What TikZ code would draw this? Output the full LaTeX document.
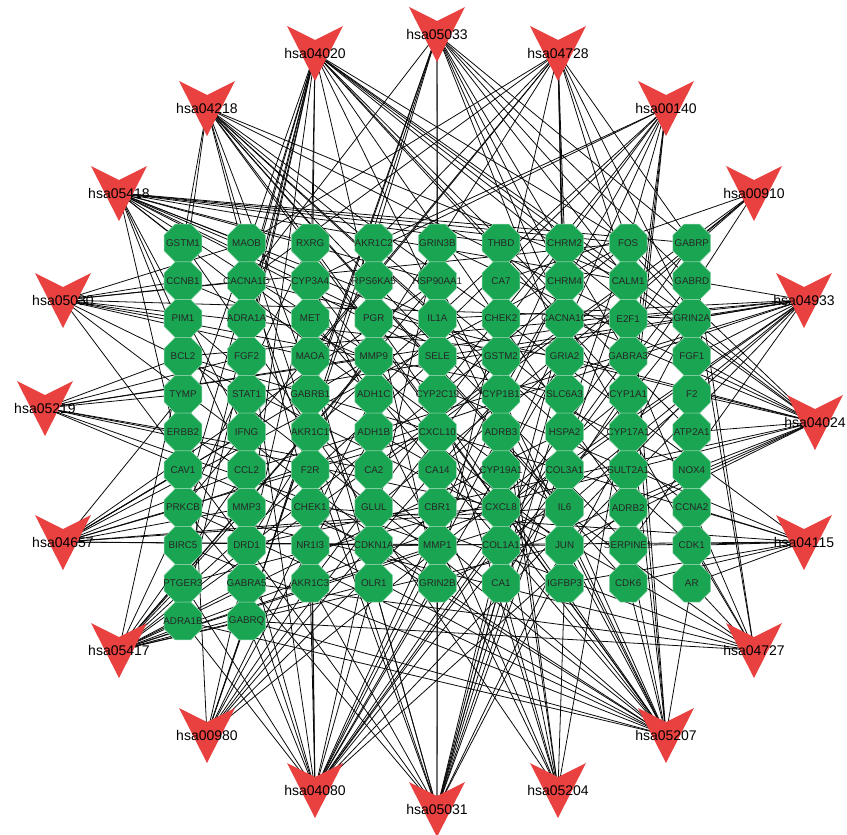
\documentclass[tikz,border=0pt]{standalone}
\usepackage{fontspec}
\setmainfont{Liberation Sans}
\usetikzlibrary{shapes.geometric,backgrounds}
\definecolor{geneGreen}{HTML}{19A552}
\definecolor{pathRed}{HTML}{E8413F}
\definecolor{linkGrey}{HTML}{0A0A0A}

\begin{document}
\begin{tikzpicture}[x=1pt, y=-1pt,
  gene/.style={regular polygon, regular polygon sides=8, minimum size=41pt, inner sep=0pt, fill=geneGreen, draw=geneGreen!45!white, line width=0.5pt, font=\fontsize{9.8}{10}\selectfont, text=black!85},
  pway/.style={inner sep=0pt, font=\fontsize{14}{14}\selectfont, text=black},
  link/.style={linkGrey, line width=0.8pt}
]
\useasboundingbox (0,0) rectangle (847,835);

% Target genes, column by column
\foreach \col [count=\i from 0] in {
  {GSTM1,CCNB1,PIM1,BCL2,TYMP,ERBB2,CAV1,PRKCB,BIRC5,PTGER3,ADRA1B},
  {MAOB,CACNA1D,ADRA1A,FGF2,STAT1,IFNG,CCL2,MMP3,DRD1,GABRA5,GABRQ},
  {RXRG,CYP3A4,MET,MAOA,GABRB1,AKR1C1,F2R,CHEK1,NR1I3,AKR1C3},
  {AKR1C2,RPS6KA5,PGR,MMP9,ADH1C,ADH1B,CA2,GLUL,CDKN1A,OLR1},
  {GRIN3B,HSP90AA1,IL1A,SELE,CYP2C19,CXCL10,CA14,CBR1,MMP1,GRIN2B},
  {THBD,CA7,CHEK2,GSTM2,CYP1B1,ADRB3,CYP19A1,CXCL8,COL1A1,CA1},
  {CHRM2,CHRM4,CACNA1C,GRIA2,SLC6A3,HSPA2,COL3A1,IL6,JUN,IGFBP3},
  {FOS,CALM1,E2F1,GABRA3,CYP1A1,CYP17A1,SULT2A1,ADRB2,SERPINE1,CDK6},
  {GABRP,GABRD,GRIN2A,FGF1,F2,ATP2A1,NOX4,CCNA2,CDK1,AR}}
  \foreach \g [count=\j from 0] in \col
    \node[gene] (\g) at (183+63.6*\i, 243+37.8*\j) {\makebox[0pt]{\g}};

% KEGG pathways (V markers)
\foreach \p/\x/\y in {hsa05033/437/34, hsa04020/315/53, hsa04728/558/53,
  hsa04218/207/108, hsa00140/666/108, hsa05418/119/193, hsa00910/754/193,
  hsa05030/63/300, hsa04933/804/300, hsa05219/45/408, hsa04024/815/422,
  hsa04657/63/542, hsa04115/804/542, hsa05417/119/650, hsa04727/754/650,
  hsa00980/207/735, hsa05207/666/735, hsa04080/315/790, hsa05204/558/790,
  hsa05031/437/809}
{
  \fill[pathRed] (\x-28,\y-27) -- (\x,\y-13) -- (\x+28,\y-27) -- (\x,\y+28) -- cycle;
  \node[pway] (\p) at (\x,\y) {\p};
}

% pathway - gene links
\begin{scope}[on background layer]
\foreach \g in {GRIN3B,GRIN2B,GRIN2A,GABRA5,GABRQ,GABRB1,GABRA3,GABRD,GABRP,CACNA1C,CACNA1D,GRIA2,CALM1,AKR1C2,CHRM4}
  \draw[link] (hsa05033.center) -- (\g);
\foreach \g in {CACNA1C,CACNA1D,CHRM2,ADRA1A,ADRA1B,ADRB2,ADRB3,CALM1,DRD1,F2R,GRIN2A,GRIN2B,ATP2A1,PTGER3,FGF1,FGF2,MET,ERBB2,PRKCB,CYP1A1,FOS}
  \draw[link] (hsa04020.center) -- (\g);
\foreach \g in {CACNA1C,CACNA1D,CALM1,DRD1,GRIA2,GRIN2A,GRIN2B,MAOA,MAOB,SLC6A3,PRKCB,FOS,AKR1C2,CHRM2,GABRP}
  \draw[link] (hsa04728.center) -- (\g);
\foreach \g in {CCNB1,CCNA2,CDK1,CDK6,CDKN1A,CHEK1,CHEK2,E2F1,IL6,CXCL8,SERPINE1,CALM1,IL1A,MAOB,RXRG,GSTM1}
  \draw[link] (hsa04218.center) -- (\g);
\foreach \g in {CYP1A1,CYP1B1,CYP3A4,CYP17A1,CYP19A1,AKR1C1,AKR1C2,AKR1C3,SULT2A1,CYP2C19,FOS,ADH1C}
  \draw[link] (hsa00140.center) -- (\g);
\foreach \g in {GSTM1,GSTM2,MMP9,IL1A,SELE,THBD,JUN,FOS,CALM1,HSP90AA1,NOX4,CCL2,IFNG,BCL2,CAV1,MAOB,RXRG,CHRM2,GABRP}
  \draw[link] (hsa05418.center) -- (\g);
\foreach \g in {CA1,CA2,CA7,CA14,GLUL,GABRP}
  \draw[link] (hsa00910.center) -- (\g);
\foreach \g in {DRD1,GRIA2,GRIN2A,GRIN2B,MAOA,MAOB,SLC6A3,JUN,FOS,CCNB1,PIM1,CACNA1D}
  \draw[link] (hsa05030.center) -- (\g);
\foreach \g in {CCL2,COL1A1,COL3A1,CXCL8,IL6,IL1A,JUN,SELE,SERPINE1,STAT1,PRKCB,BCL2,GRIN2A,GABRD,FGF1,E2F1}
  \draw[link] (hsa04933.center) -- (\g);
\foreach \g in {CDKN1A,E2F1,ERBB2,MMP1,MMP9,CXCL8,TYMP,BCL2,FGF2,CA2}
  \draw[link] (hsa05219.center) -- (\g);
\foreach \g in {ADRB2,CALM1,CACNA1C,CACNA1D,CHRM2,DRD1,FOS,JUN,GRIA2,GRIN2A,GRIN2B,ATP2A1,PTGER3,GRIN3B,F2,FGF1,NOX4}
  \draw[link] (hsa04024.center) -- (\g);
\foreach \g in {CCL2,CXCL10,CXCL8,FOS,HSP90AA1,IFNG,IL6,JUN,MMP1,MMP3,MMP9,PRKCB,CAV1,TYMP}
  \draw[link] (hsa04657.center) -- (\g);
\foreach \g in {CCNB1,CDK1,CDK6,CDKN1A,CHEK1,CHEK2,IGFBP3,SERPINE1,BCL2,CCNA2,AR}
  \draw[link] (hsa04115.center) -- (\g);
\foreach \g in {BCL2,CALM1,CCL2,CXCL8,HSP90AA1,IL6,JUN,MMP1,MMP3,MMP9,OLR1,SELE,RXRG,HSPA2,FOS,PTGER3,ADRA1B,GABRQ,GABRA5}
  \draw[link] (hsa05417.center) -- (\g);
\foreach \g in {GABRA3,GABRA5,GABRB1,GABRD,GABRP,GABRQ,GLUL,CACNA1C,CACNA1D,PRKCB,AR,CDK1}
  \draw[link] (hsa04727.center) -- (\g);
\foreach \g in {ADH1B,ADH1C,AKR1C1,AKR1C2,AKR1C3,CBR1,CYP1A1,CYP1B1,CYP3A4,GSTM1,GSTM2,GABRQ}
  \draw[link] (hsa00980.center) -- (\g);
\foreach \g in {CYP1A1,CYP1B1,CYP3A4,JUN,FOS,BCL2,HSP90AA1,IL6,CXCL8,AR,PGR,ERBB2,E2F1,RXRG,NR1I3,PIM1,PRKCB,BIRC5,CDKN1A,MET,ADRA1B,GABRQ,CDK6,SERPINE1}
  \draw[link] (hsa05207.center) -- (\g);
\foreach \g in {ADRA1A,ADRA1B,ADRB2,ADRB3,CHRM2,CHRM4,DRD1,F2,F2R,GABRA3,GABRA5,GABRB1,GABRD,GABRP,GABRQ,GRIA2,GRIN2A,GRIN2B,GRIN3B,PTGER3,AKR1C3,OLR1}
  \draw[link] (hsa04080.center) -- (\g);
\foreach \g in {CYP1A1,CYP1B1,CYP3A4,GSTM1,GSTM2,CYP2C19,CBR1,CA1,IGFBP3,CXCL8}
  \draw[link] (hsa05204.center) -- (\g);
\foreach \g in {CACNA1C,CACNA1D,CALM1,DRD1,FOS,GRIA2,GRIN2A,GRIN2B,GRIN3B,JUN,MAOA,MAOB,SLC6A3,PRKCB,AKR1C3,OLR1,CA1,COL1A1}
  \draw[link] (hsa05031.center) -- (\g);
\end{scope}
\end{tikzpicture}
\end{document}
